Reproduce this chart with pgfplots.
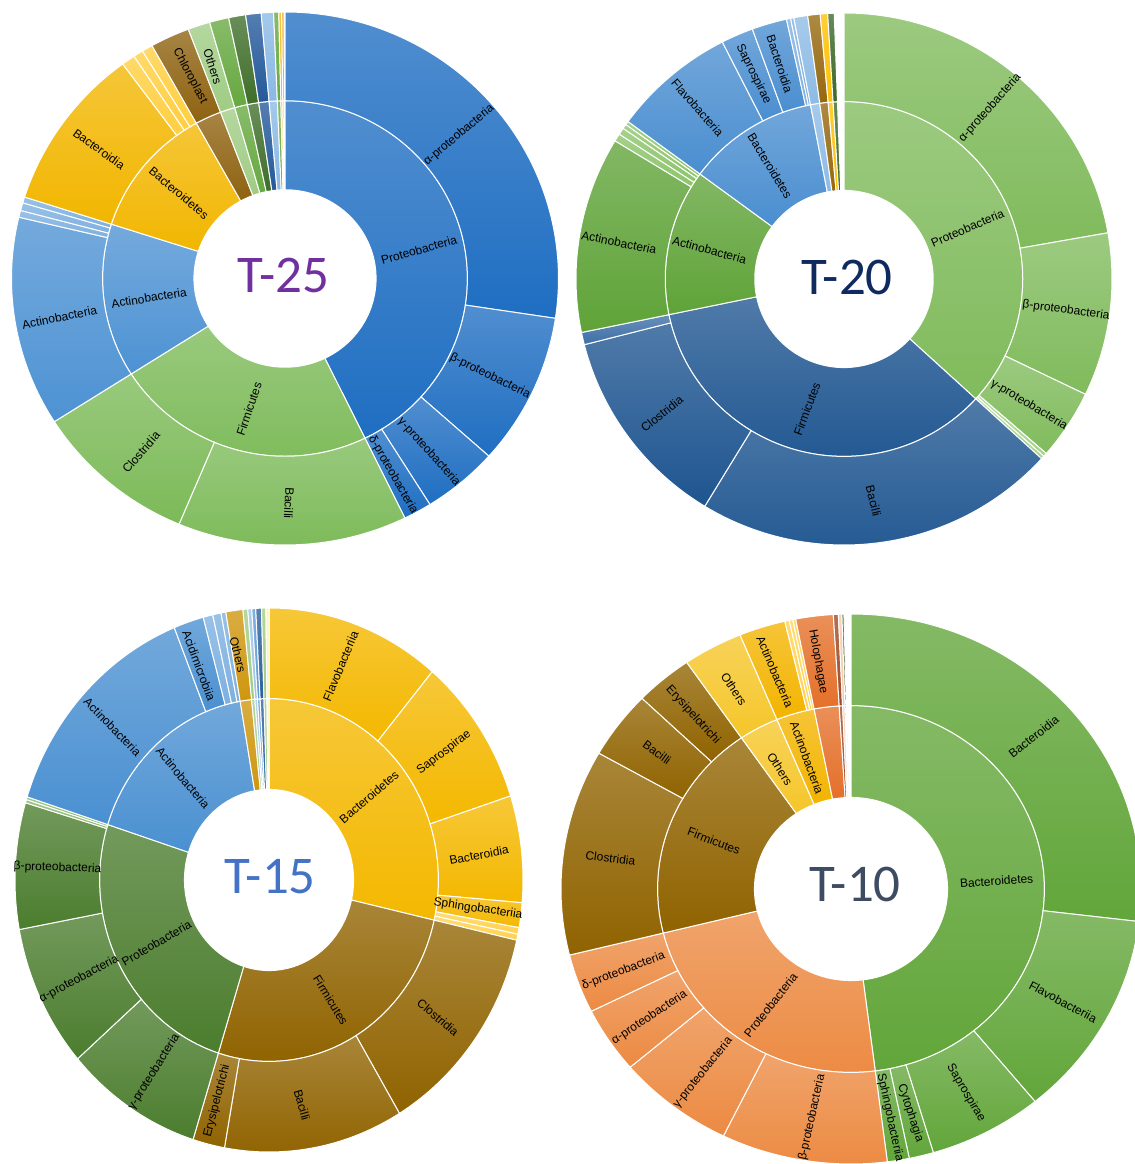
\documentclass[border=0pt]{standalone}
\usepackage{pgfplots}
\pgfplotsset{compat=1.18}
\usepackage{pgfplotstable}
\usepackage{fontspec}
\setmainfont{Liberation Sans}
\newfontfamily\titlefont{Carlito}

% T-25
\definecolor{AP}{HTML}{1F6EC2}
\definecolor{AA}{HTML}{4D92D3}
\definecolor{AAl}{HTML}{7DB0E0}
\definecolor{AF}{HTML}{7CBA58}
\definecolor{AY}{HTML}{F2B600}
\definecolor{AYl}{HTML}{FFCF40}
\definecolor{ABr}{HTML}{8E6210}
\definecolor{AgO}{HTML}{9FCC84}
\definecolor{AgM}{HTML}{66A840}
\definecolor{AgD}{HTML}{3F6E2A}
\definecolor{AbD}{HTML}{24599A}
\definecolor{AbP}{HTML}{8AB9E4}
\definecolor{AoR}{HTML}{E8A020}
% T-20
\definecolor{BP}{HTML}{80BB5C}
\definecolor{BPl}{HTML}{A5D38A}
\definecolor{BF}{HTML}{1E5590}
\definecolor{BFl}{HTML}{3E6FA6}
\definecolor{BA}{HTML}{5FA338}
\definecolor{BAl}{HTML}{8CC46A}
\definecolor{BB}{HTML}{4A8ED0}
\definecolor{BBl}{HTML}{7DB0E0}
\definecolor{BLB}{HTML}{8DBBE5}
\definecolor{BBr}{HTML}{96680E}
\definecolor{BYl}{HTML}{FFC000}
\definecolor{BDG}{HTML}{3C6928}
% T-15
\definecolor{CY}{HTML}{F4B800}
\definecolor{CYl}{HTML}{FFD24D}
\definecolor{CF}{HTML}{906300}
\definecolor{CP}{HTML}{4B7D2E}
\definecolor{CPl}{HTML}{86B86A}
\definecolor{CA}{HTML}{4A90D1}
\definecolor{CAl}{HTML}{7DB0E0}
\definecolor{CO}{HTML}{CF960E}
\definecolor{CgO}{HTML}{9FCC84}
\definecolor{CbP}{HTML}{9DC3E6}
\definecolor{CbL}{HTML}{5B9BD5}
\definecolor{CbD}{HTML}{2B5F9E}
\definecolor{ClY}{HTML}{FFF2B0}
% T-10
\definecolor{DG}{HTML}{62A63A}
\definecolor{DO}{HTML}{EC8A42}
\definecolor{DF}{HTML}{906300}
\definecolor{DYO}{HTML}{F5C62A}
\definecolor{DYA}{HTML}{F3B400}
\definecolor{DYAl}{HTML}{FFD24D}
\definecolor{DH}{HTML}{E4702A}
\definecolor{DDR}{HTML}{9E4A26}
\definecolor{DlP}{HTML}{F6C7A8}
\definecolor{DDG}{HTML}{375623}
% titles
\definecolor{tA}{HTML}{7030A0}
\definecolor{tB}{HTML}{0E2A5E}
\definecolor{tC}{HTML}{4472C4}
\definecolor{tD}{HTML}{3D4B63}

\def\pxu{0.5}

\pgfplotsset{
  sunb/.style 2 args={
    scatter, only marks, mark=*, mark size=0.2pt,
    point meta=explicit symbolic,
    visualization depends on={\thisrow{a}\as\wa},
    visualization depends on={\thisrow{b}\as\wb},
    visualization depends on={\thisrow{ri}\as\wri},
    visualization depends on={\thisrow{ro}\as\wro},
    scatter/@pre marker code/.code={%
      \edef\wc{\pgfplotspointmeta}%
      \pgfmathsetmacro\wsa{90-\wa}%
      \pgfmathsetmacro\wsb{90-\wb}%
      \pgfmathsetmacro\oxr{\wro*#1*\pxu}%
      \pgfmathsetmacro\oyr{\wro*#2*\pxu}%
      \pgfmathsetmacro\ixr{\wri*#1*\pxu}%
      \pgfmathsetmacro\iyr{\wri*#2*\pxu}%
      \path[draw=white, line width=0.5pt, top color=\wc!78!white, bottom color=\wc]
        (\wsa:\oxr pt and \oyr pt)
        arc[start angle=\wsa, end angle=\wsb, x radius=\oxr pt, y radius=\oyr pt]
        -- (\wsb:\ixr pt and \iyr pt)
        arc[start angle=\wsb, end angle=\wsa, x radius=\ixr pt, y radius=\iyr pt]
        -- cycle;
      \begin{scope}[opacity=0]%
    },
    scatter/@post marker code/.code={\end{scope}},
  },
  labs/.style={
    scatter, only marks, mark=*, mark size=0.2pt,
    point meta=explicit symbolic,
    visualization depends on={\thisrow{r}\as\lr},
    scatter/@pre marker code/.code={%
      \node[rotate=\lr, inner sep=0pt, font=\fontsize{6}{7}\selectfont, text=black] at (0,0) {\pgfplotspointmeta};%
      \begin{scope}[opacity=0]},
    scatter/@post marker code/.code={\end{scope}},
  },
  tits/.style={
    scatter, only marks, mark=*, mark size=0.2pt,
    point meta=explicit symbolic,
    scatter/@pre marker code/.code={%
      \node[inner sep=0pt, font=\titlefont\fontsize{26.5}{30}\selectfont, text=#1] at (0,0) {\pgfplotspointmeta};%
      \begin{scope}[opacity=0]},
    scatter/@post marker code/.code={\end{scope}},
  },
}

% x y = centre (px), a b = clockwise degrees from 12 o'clock, ri ro = ring radii (fraction of outer)
\pgfplotstableread{
x y a b ri ro c
285 885.5 0 154 0.333 0.667 AP
285 885.5 154 237.5 0.333 0.667 AF
285 885.5 237.5 287.8 0.333 0.667 AA
285 885.5 287.8 330.9 0.333 0.667 AY
285 885.5 330.9 339.3 0.333 0.667 ABr
285 885.5 339.3 344 0.333 0.667 AgO
285 885.5 344 348.1 0.333 0.667 AgM
285 885.5 348.1 351.7 0.333 0.667 AgD
285 885.5 351.7 355 0.333 0.667 AbD
285 885.5 355 357.6 0.333 0.667 AbP
285 885.5 357.6 358.7 0.333 0.667 AgM
285 885.5 358.7 359.3 0.333 0.667 AY
285 885.5 359.3 359.8 0.333 0.667 AoR
285 885.5 0 98.6 0.667 1 AP
285 885.5 98.6 131.8 0.667 1 AP
285 885.5 131.8 148 0.667 1 AP
285 885.5 148 154 0.667 1 AP
285 885.5 154 202.8 0.667 1 AF
285 885.5 202.8 237.5 0.667 1 AF
285 885.5 237.5 283.3 0.667 1 AA
285 885.5 283.3 284.8 0.667 1 AAl
285 885.5 284.8 286.5 0.667 1 AAl
285 885.5 286.5 287.8 0.667 1 AAl
285 885.5 287.8 323.6 0.667 1 AY
285 885.5 323.6 326.5 0.667 1 AYl
285 885.5 326.5 328.6 0.667 1 AYl
285 885.5 328.6 330.9 0.667 1 AYl
285 885.5 330.9 339.3 0.667 1 ABr
285 885.5 339.3 344 0.667 1 AgO
285 885.5 344 348.1 0.667 1 AgM
285 885.5 348.1 351.7 0.667 1 AgD
285 885.5 351.7 355 0.667 1 AbD
285 885.5 355 357.6 0.667 1 AbP
285 885.5 357.6 358.7 0.667 1 AgM
285 885.5 358.7 359.3 0.667 1 AY
285 885.5 359.3 359.8 0.667 1 AoR
}\tabA

\pgfplotstableread{
x y a b ri ro c
844 885 0 132.5 0.333 0.667 BP
844 885 132.5 258.4 0.333 0.667 BF
844 885 258.4 306.3 0.333 0.667 BA
844 885 306.3 349.2 0.333 0.667 BB
844 885 349.2 352.2 0.333 0.667 BLB
844 885 352.2 354.9 0.333 0.667 BBr
844 885 354.9 356.5 0.333 0.667 BYl
844 885 356.5 357.9 0.333 0.667 BDG
844 885 0 80 0.667 1 BP
844 885 80 115.7 0.667 1 BP
844 885 115.7 131 0.667 1 BP
844 885 131 131.8 0.667 1 BPl
844 885 131.8 132.5 0.667 1 BPl
844 885 132.5 211.3 0.667 1 BF
844 885 211.3 255.7 0.667 1 BF
844 885 255.7 258.4 0.667 1 BFl
844 885 258.4 301.3 0.667 1 BA
844 885 301.3 303 0.667 1 BAl
844 885 303 304.5 0.667 1 BAl
844 885 304.5 305.5 0.667 1 BAl
844 885 305.5 306.3 0.667 1 BAl
844 885 306.3 333 0.667 1 BB
844 885 333 340 0.667 1 BB
844 885 340 347.6 0.667 1 BB
844 885 347.6 348.5 0.667 1 BBl
844 885 348.5 349.2 0.667 1 BBl
844 885 349.2 352.2 0.667 1 BLB
844 885 352.2 354.9 0.667 1 BBr
844 885 354.9 356.5 0.667 1 BYl
844 885 356.5 357.9 0.667 1 BDG
}\tabB

\pgfplotstableread{
x y a b ri ro c
269 284 0 102.8 0.333 0.667 CY
269 284 102.8 197.4 0.333 0.667 CF
269 284 197.4 287.8 0.333 0.667 CP
269 284 287.8 350.2 0.333 0.667 CA
269 284 350.2 354.1 0.333 0.667 CO
269 284 354.1 355.2 0.333 0.667 CgO
269 284 355.2 356.1 0.333 0.667 CbP
269 284 356.1 357.0 0.333 0.667 CbL
269 284 357.0 358.3 0.333 0.667 CbD
269 284 358.3 359.3 0.333 0.667 CgO
269 284 359.3 360 0.333 0.667 ClY
269 284 0 40 0.667 1 CY
269 284 40 72 0.667 1 CY
269 284 72 94.8 0.667 1 CY
269 284 94.8 100.1 0.667 1 CY
269 284 100.1 101.5 0.667 1 CYl
269 284 101.5 102.8 0.667 1 CYl
269 284 102.8 149.1 0.667 1 CF
269 284 149.1 190.1 0.667 1 CF
269 284 190.1 197.4 0.667 1 CF
269 284 197.4 228.9 0.667 1 CP
269 284 228.9 259.5 0.667 1 CP
269 284 259.5 286.5 0.667 1 CP
269 284 286.5 287.2 0.667 1 CPl
269 284 287.2 287.8 0.667 1 CPl
269 284 287.8 338.1 0.667 1 CA
269 284 338.1 345 0.667 1 CA
269 284 345 347.2 0.667 1 CAl
269 284 347.2 349.1 0.667 1 CAl
269 284 349.1 350.2 0.667 1 CAl
269 284 350.2 354.1 0.667 1 CO
269 284 354.1 355.2 0.667 1 CgO
269 284 355.2 356.1 0.667 1 CbP
269 284 356.1 357.0 0.667 1 CbL
269 284 357.0 358.3 0.667 1 CbD
269 284 358.3 359.3 0.667 1 CgO
269 284 359.3 360 0.667 1 ClY
}\tabC

\pgfplotstableread{
x y a b ri ro c
851 275 0 172.8 0.333 0.667 DG
851 275 172.8 256.1 0.333 0.667 DO
851 275 256.1 325.5 0.333 0.667 DF
851 275 325.5 337.5 0.333 0.667 DYO
851 275 337.5 349 0.333 0.667 DYA
851 275 349 356.5 0.333 0.667 DH
851 275 356.5 357.5 0.333 0.667 DDR
851 275 357.5 358.2 0.333 0.667 DlP
851 275 358.2 358.6 0.333 0.667 DDG
851 275 0 96.8 0.667 1 DG
851 275 96.8 140.6 0.667 1 DG
851 275 140.6 163.5 0.667 1 DG
851 275 163.5 168.4 0.667 1 DG
851 275 168.4 172.8 0.667 1 DG
851 275 172.8 206.1 0.667 1 DO
851 275 206.1 229.6 0.667 1 DO
851 275 229.6 243.6 0.667 1 DO
851 275 243.6 256.1 0.667 1 DO
851 275 256.1 299.6 0.667 1 DF
851 275 299.6 313.9 0.667 1 DF
851 275 313.9 325.5 0.667 1 DF
851 275 325.5 337.5 0.667 1 DYO
851 275 337.5 346.8 0.667 1 DYA
851 275 346.8 347.7 0.667 1 DYAl
851 275 347.7 348.4 0.667 1 DYAl
851 275 348.4 349 0.667 1 DYAl
851 275 349 356.5 0.667 1 DH
851 275 356.5 357.5 0.667 1 DDR
851 275 357.5 358.2 0.667 1 DlP
851 275 358.2 358.6 0.667 1 DDG
}\tabD

\pgfplotstableread{
x y r t
459 1029 40 α-proteobacteria
419 914 16 Proteobacteria
490 788 -26 β-proteobacteria
429 712 -48 γ-proteobacteria
393 689 -60 δ-proteobacteria
249 755 71 Firmicutes
289 661 -93 Bacilli
141 712 49 Clostridia
59.5 846.5 11.5 Actinobacteria
149 866 9 Actinobacteria
99 1015 -35.5 Bacteroidia
179 971 -40 Bacteroidetes
190 1088 -62 Chloroplast
212.7 1097.3 -72 Others
990 1056 48.5 α-proteobacteria
967.5 936 23.5 Proteobacteria
1066 853.5 -7.4 β-proteobacteria
1029 759 -31 γ-proteobacteria
807 755 69.5 Firmicutes
873.5 663 -76 Bacilli
662 750 38.7 Clostridia
619 921.5 -11.6 Actinobacteria
709.5 914 -15.3 Actinobacteria
697.5 1056 -49 Flavobacteria
753.5 1090 -63.8 Saprospirae
779.7 1100 -72 Bacteroidia
770 998 -58.5 Bacteroidetes
340.6 498 67.6 Flavobacteriia
444 411.5 38 Saprospirae
369 367 40.7 Bacteroidetes
479 309 10.5 Bacteroidia
478 255 -8.3 Sphingobacteriia
330.7 164 -58.5 Firmicutes
438 146.5 -40.3 Clostridia
302 59 -74 Bacilli
217 63 75.4 Erysipelotrichi
154 92 58 γ-proteobacteria
156.5 221 30.3 Proteobacteria
79 185 27.8 α-proteobacteria
57.5 296 -1.9 β-proteobacteria
112.5 437 -45.8 Actinobacteria
183 386 -50 Actinobacteria
199 498 -69.5 Acidimicrobiia
238 509 -76 Others
1033.7 427.3 38.7 Bacteroidia
996.6 283 3.8 Bacteroidetes
1063 162 -28 Flavobacteriia
966 71 -59.5 Saprospirae
910.5 51 -72 Cytophagia
890 46.5 -77.8 Sphingobacteriia
812 46.5 77.6 β-proteobacteria
703 91.5 51 γ-proteobacteria
770.7 159 51.7 Proteobacteria
649.5 146.5 33.6 α-proteobacteria
623.5 193 20.5 δ-proteobacteria
610.5 306 -7.3 Clostridia
714 323 -21.3 Firmicutes
657 411.5 -36 Bacilli
693 449 -48 Erysipelotrichi
734 475 -56.4 Others
775 492.3 -67 Actinobacteria
818 502.3 -80 Holophagae
780 395 -57.5 Others
807 406 -70 Actinobacteria
}\labs

\begin{document}
\begin{tikzpicture}
\begin{axis}[
  x=\pxu pt, y=\pxu pt,
  xmin=0, xmax=1135, ymin=0, ymax=1164,
  hide axis, clip=true, clip marker paths=true,
]
\addplot[sunb={273.5}{266.5}] table[x=x, y=y, meta=c] {\tabA};
\addplot[sunb={268}{266}] table[x=x, y=y, meta=c] {\tabB};
\addplot[sunb={254}{272}] table[x=x, y=y, meta=c] {\tabC};
\addplot[sunb={290}{275}] table[x=x, y=y, meta=c] {\tabD};
\addplot[labs] table[x=x, y=y, meta=t] {\labs};
\addplot[tits=tA] coordinates {(283.5,888.5) [T-25]};
\addplot[tits=tB] coordinates {(847,887) [T-20]};
\addplot[tits=tC] coordinates {(270,287) [T-15]};
\addplot[tits=tD] coordinates {(855,280) [T-10]};
\coordinate (bbsw) at (rel axis cs:0,0);
\coordinate (bbne) at (rel axis cs:1,1);
\end{axis}
\pgfresetboundingbox
\path[use as bounding box] (bbsw) rectangle (bbne);
\end{tikzpicture}
\end{document}
